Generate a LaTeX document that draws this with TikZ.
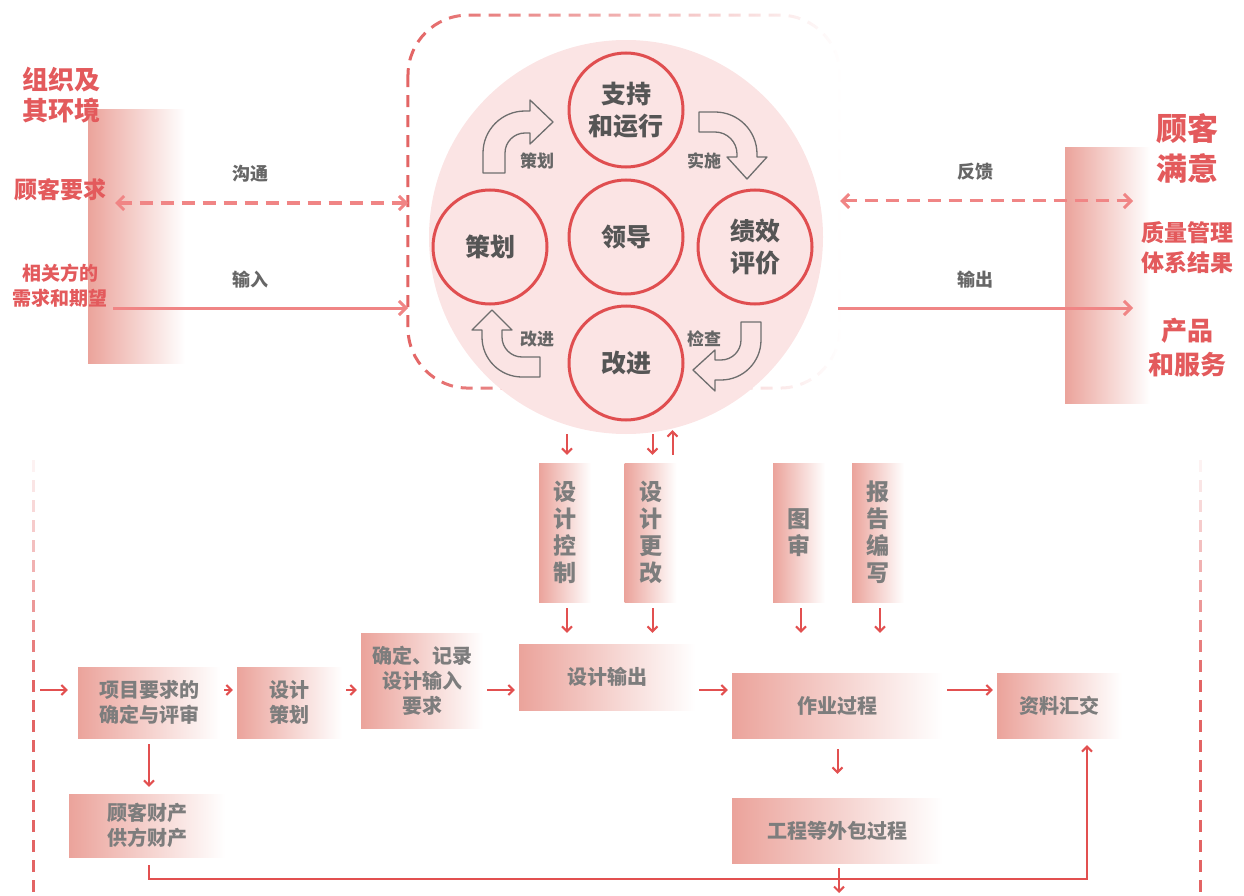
\documentclass[tikz,border=0pt]{standalone}
\usepackage{fontspec}
\setmainfont{Noto Sans CJK SC}
\usepackage{tikz}
\usetikzlibrary{arrows.meta,fadings}
\definecolor{pdcafill}{HTML}{FBE4E4}
\definecolor{circred}{HTML}{E04E50}
\definecolor{sidered}{HTML}{E35A5C}
\definecolor{linkred}{HTML}{F08585}
\definecolor{flowred}{HTML}{E25050}
\definecolor{framered}{HTML}{E36464}
\definecolor{boxred}{HTML}{EBA39B}
\definecolor{darktext}{HTML}{555555}
\definecolor{labelgray}{HTML}{666666}
\definecolor{boxtext}{HTML}{7D7D7D}
\definecolor{hollowgray}{HTML}{6E6E6E}
\tikzfading[name=fadeeast, left color=transparent!0, middle color=transparent!35, right color=transparent!100]
\tikzset{
    gradbox/.style={ % fades out to the right
        left color=boxred,
        right color=white,
        inner sep=0pt
    },
}

\begin{document}
\begin{tikzpicture}[x=1pt,y=-1pt]
\useasboundingbox (0,0) rectangle (1244,896);
%% styles
\tikzstyle{pdcanode}=[circle,draw=circred,line width=3pt,minimum size=114pt,inner sep=0pt,align=center,text=darktext,font=\fontsize{25}{32}\selectfont\bfseries]
\tikzstyle{hollow}=[draw=hollowgray,line width=1.3pt,line join=round]
\tikzstyle{steplabel}=[text=labelgray,font=\fontsize{17}{20}\selectfont\bfseries]
\tikzstyle{linklabel}=[text=labelgray,font=\fontsize{18}{20}\selectfont\bfseries]
\tikzstyle{flowbox}=[gradbox,minimum height=71pt,align=center,text=boxtext,font=\fontsize{20}{25}\selectfont\bfseries]
\tikzstyle{vbox}=[gradbox,minimum width=52pt,minimum height=139pt,align=center,text=boxtext,font=\fontsize{23}{27}\selectfont\bfseries]
\tikzstyle{flowarrow}=[-{Straight Barb[length=5pt,width=10pt]},draw=flowred,line width=2pt]
\tikzstyle{bigarrow}=[-{Straight Barb[length=7pt,width=14pt]},draw=linkred,line width=3pt]
\tikzstyle{twoway}=[bigarrow,{Straight Barb[length=7pt,width=14pt]}-{Straight Barb[length=7pt,width=14pt]},dash pattern=on 13pt off 8pt]
\tikzstyle{sidetext}=[text=sidered,align=center,inner sep=0pt]
\tikzstyle{dashframe}=[draw=framered,line width=3pt,dash pattern=on 12pt off 8pt]

%% side bars and frames
\node[gradbox,minimum width=97pt,minimum height=253pt] (envbar) at (136.5,236.5) {};
\node[gradbox,minimum width=85pt,minimum height=255pt] (satbar) at (1107.5,275.5) {};
\draw[dashframe,rounded corners=60pt,path fading=fadeeast] (408,15) rectangle (840,388);
\foreach \y in {440,460,...,880} {
  \pgfmathsetmacro\op{min(1,(\y-440)/240)}
  \draw[draw=framered,line width=3pt,opacity=\op] (33,\y) -- (33,\y+12);
  \draw[draw=framered,line width=3pt,opacity=\op] (1200,\y) -- (1200,\y+12);
}

%% pdca cycle
\node[circle,fill=pdcafill,minimum size=394pt,inner sep=0pt] (pdca) at (626,237) {};
\node[pdcanode] (do) at (626,110) {支持\\和运行};
\node[pdcanode] (lead) at (626,237) {领导};
\node[pdcanode] (plan) at (490,247) {策划};
\node[pdcanode] (check) at (755,247) {绩效\\评价};
\node[pdcanode] (act) at (626,363) {改进};
% hollow arrows
\draw[hollow] (483,173) -- (483,153) arc[start angle=180,end angle=270,radius=42] -- (530,111) -- (530,100) -- (553,122) -- (530,144) -- (530,133) -- (525,133) arc[start angle=270,end angle=180,radius=20] -- (505,173) -- cycle;
\draw[hollow] (699,112) -- (715,112) arc[start angle=270,end angle=360,radius=42] -- (757,157) -- (767,157) -- (747,179) -- (727,157) -- (737,157) -- (737,154) arc[start angle=0,end angle=-90,radius=22] -- (699,132) -- cycle;
\draw[hollow] (741,322) -- (761,322) -- (761,340) arc[start angle=0,end angle=90,radius=40] -- (715,380) -- (715,391) -- (693,370) -- (715,350) -- (715,360) -- (721,360) arc[start angle=90,end angle=0,radius=20] -- cycle;
\draw[hollow] (540,357) -- (540,377) -- (522,377) arc[start angle=90,end angle=180,radius=40] -- (482,330) -- (472,330) -- (492,310) -- (512,330) -- (502,330) -- (502,337) arc[start angle=180,end angle=90,radius=20] -- cycle;
\node[steplabel] (l-plan) at (537,161) {策划};
\node[steplabel] (l-do) at (704,161) {实施};
\node[steplabel] (l-check) at (704,339) {检查};
\node[steplabel] (l-act) at (537,339) {改进};

%% left and right texts
\node[sidetext,font=\fontsize{26}{31}\selectfont\bfseries] (org) at (61,95) {组织及\\其环境};
\node[sidetext,font=\fontsize{23}{28}\selectfont\bfseries] (custreq) at (60,190) {顾客要求};
\node[sidetext,font=\fontsize{19}{25}\selectfont\bfseries] (needs) at (60,286) {相关方的\\需求和期望};
\node[sidetext,font=\fontsize{31}{40}\selectfont\bfseries] (sat) at (1187,148) {顾客\\满意};
\node[sidetext,font=\fontsize{23}{30}\selectfont\bfseries] (result) at (1187,248) {质量管理\\体系结果};
\node[sidetext,font=\fontsize{26}{34}\selectfont\bfseries] (prod) at (1187,348) {产品\\和服务};

%% links to the outside
\coordinate (commL) at (115,203);
\coordinate (commR) at (408,203);
\coordinate (inL) at (113,308);
\coordinate (inR) at (408,308);
\coordinate (fbL) at (840,201);
\coordinate (fbR) at (1133,201);
\coordinate (outL) at (838,308);
\coordinate (outR) at (1133,308);
\draw[twoway] (commL) -- (commR);
\draw[bigarrow] (inL) -- (inR);
\draw[twoway] (fbL) -- (fbR);
\draw[bigarrow] (outL) -- (outR);
\node[linklabel] (l-comm) at (250,174) {沟通};
\node[linklabel] (l-in) at (250,280) {输入};
\node[linklabel] (l-fb) at (975,172) {反馈};
\node[linklabel] (l-out) at (975,280) {输出};

%% design boxes
\node[vbox] (ctrl) at (565,532.5) {设\\计\\控\\制};
\node[vbox] (chg) at (650.5,532.5) {设\\计\\更\\改};
\node[vbox] (rev) at (799,532.5) {图\\审};
\node[vbox] (rep) at (878,532.5) {报\\告\\编\\写};

%% process flow
\node[flowbox,minimum width=142pt] (req) at (149,702.5) {项目要求的\\确定与评审};
\node[flowbox,minimum width=105pt] (dplan) at (289.5,702.5) {设计\\策划};
\node[flowbox,minimum width=122pt,minimum height=95pt] (inp) at (422,680.5) {确定、记录\\设计输入\\要求};
\node[flowbox,minimum width=176pt,minimum height=66pt] (out) at (607,677) {设计输出};
\node[flowbox,minimum width=211pt,minimum height=65pt] (work) at (837.5,705.5) {作业过程};
\node[flowbox,minimum width=125pt,minimum height=65pt] (data) at (1059.5,705.5) {资料汇交};
\node[flowbox,minimum width=156pt,minimum height=63pt] (cust) at (147,825.5) {顾客财产\\供方财产};
\node[flowbox,minimum width=211pt,minimum height=65pt] (outsrc) at (837.5,830.5) {工程等外包过程};

%% arrows
\coordinate (row) at (0,690);
\coordinate (entry) at (40,690);
\coordinate (loopL) at (149,879);
\coordinate (loopR) at (1087,879);
\coordinate (exit) at (839,893);
% from and to the cycle
\foreach \to in {ctrl,chg}
\draw[flowarrow,shorten >=8pt] ([xshift=2pt]\to.north |- pdca.south) -- ([xshift=2pt]\to.north);
\draw[flowarrow,shorten <=8pt] ([xshift=22pt]chg.north) -- ([xshift=22pt,yshift=4pt]chg.north |- pdca.south);
\foreach \from/\to/\gap in {ctrl/out/11pt,chg/out/11pt,rev/work/40pt,rep/work/40pt}
\draw[flowarrow,shorten <=6pt,shorten >=\gap] ([xshift=2pt]\from.south) -- ([xshift=2pt]\from.south |- \to.north);
% main flow
\draw[flowarrow,shorten >=10pt] (entry) -- (req.west |- row);
\foreach \from/\to in {req/dplan,dplan/inp,inp/out,out/work,work/data}
\draw[flowarrow,shorten <=4pt,shorten >=4pt] (\from.east |- row) -- (\to.west |- row);
\draw[flowarrow,shorten <=6pt,shorten >=7pt] (req.south) -- (req.south |- cust.north);
\draw[flowarrow,shorten <=11pt,shorten >=24pt] (work.south) -- (outsrc.north);
\draw[flowarrow,shorten <=8pt,shorten >=7pt] (cust.south -| loopL) -- (loopL) -- (loopR) -- (loopR |- data.south);
\draw[flowarrow,shorten <=5pt] (outsrc.south -| exit) -- (exit);
\end{tikzpicture}
\end{document}
